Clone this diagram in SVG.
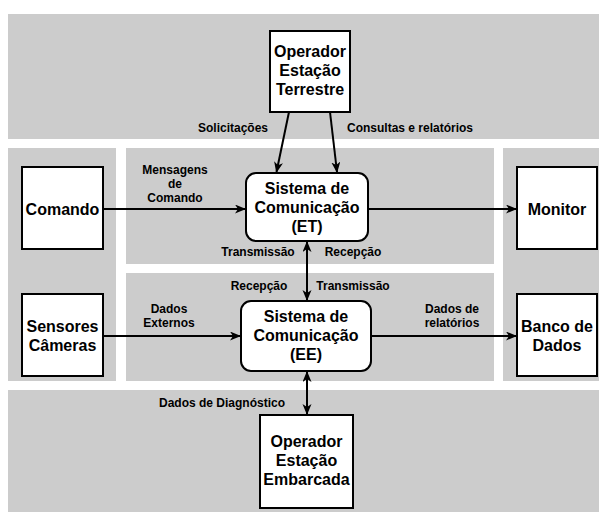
<svg xmlns="http://www.w3.org/2000/svg" width="599" height="512" viewBox="0 0 599 512">
  <style>
    .band { fill: #cccccc; stroke: none; }
    .box { fill: #ffffff; stroke: #000000; stroke-width: 2; }
    .node-text { font-family: "Liberation Sans", Arial, sans-serif; font-size: 16px; font-weight: bold; fill: #000000; text-anchor: middle; }
    .label { font-family: "Liberation Sans", Arial, sans-serif; font-size: 12px; font-weight: bold; fill: #000000; text-anchor: middle; }
    .edge { fill: none; stroke: #000000; stroke-width: 2; }
  </style>
  <defs>
    <marker id="arrow" markerUnits="userSpaceOnUse" markerWidth="12" markerHeight="10" refX="10" refY="4.5" orient="auto-start-reverse">
      <path d="M0,0 L11,4.5 L0,9 L3,4.5 Z" fill="#000000"/>
    </marker>
  </defs>

  <rect width="599" height="512" fill="#ffffff"/>

  <!-- background zones -->
  <g id="zones">
    <rect class="band" x="8" y="14" width="591" height="125"/>
    <rect class="band" x="8" y="148" width="108" height="233"/>
    <rect class="band" x="126" y="148" width="368" height="116"/>
    <rect class="band" x="126" y="273" width="368" height="108"/>
    <rect class="band" x="503" y="148" width="96" height="233"/>
    <rect class="band" x="8" y="390" width="591" height="122"/>
  </g>

  <!-- connectors -->
  <g id="connectors">
    <line class="edge" x1="289" y1="112" x2="276.5" y2="172" marker-end="url(#arrow)"/>
    <line class="edge" x1="330" y1="112" x2="337" y2="172" marker-end="url(#arrow)"/>
    <line class="edge" x1="103" y1="209" x2="245" y2="209" marker-end="url(#arrow)"/>
    <line class="edge" x1="368" y1="209" x2="516" y2="209" marker-end="url(#arrow)"/>
    <line class="edge" x1="307" y1="242" x2="307" y2="300" marker-start="url(#arrow)" marker-end="url(#arrow)"/>
    <line class="edge" x1="103" y1="336" x2="240" y2="336" marker-end="url(#arrow)"/>
    <line class="edge" x1="371" y1="336" x2="516" y2="336" marker-end="url(#arrow)"/>
    <line class="edge" x1="307" y1="372" x2="307" y2="414" marker-start="url(#arrow)" marker-end="url(#arrow)"/>

    <text class="label" x="233" y="132">Solicitações</text>
    <text class="label" x="410" y="132">Consultas e relatórios</text>
    <text class="label" x="175" y="174">Mensagens</text>
    <text class="label" x="175" y="188">de</text>
    <text class="label" x="175" y="202">Comando</text>
    <text class="label" x="258" y="256">Transmissão</text>
    <text class="label" x="353" y="256">Recepção</text>
    <text class="label" x="259" y="290">Recepção</text>
    <text class="label" x="353" y="290">Transmissão</text>
    <text class="label" x="169" y="313">Dados</text>
    <text class="label" x="169" y="327">Externos</text>
    <text class="label" x="452" y="313">Dados de</text>
    <text class="label" x="452" y="327">relatórios</text>
    <text class="label" x="222" y="407">Dados de Diagnóstico</text>
  </g>

  <g id="operador-terrestre">
    <rect class="box" x="270" y="31" width="80" height="81"/>
    <text class="node-text" x="310" y="57">Operador</text>
    <text class="node-text" x="310" y="76">Estação</text>
    <text class="node-text" x="310" y="95">Terrestre</text>
  </g>

  <g id="comando">
    <rect class="box" x="22" y="167" width="81" height="82"/>
    <text class="node-text" x="62.5" y="214.5">Comando</text>
  </g>

  <g id="sistema-et">
    <rect class="box" x="246" y="173" width="122" height="68" rx="10" ry="10"/>
    <text class="node-text" x="307" y="194">Sistema de</text>
    <text class="node-text" x="307" y="213">Comunicação</text>
    <text class="node-text" x="307" y="232">(ET)</text>
  </g>

  <g id="monitor">
    <rect class="box" x="517" y="167" width="80" height="82"/>
    <text class="node-text" x="557" y="214.5">Monitor</text>
  </g>

  <g id="sensores">
    <rect class="box" x="22" y="294" width="81" height="82"/>
    <text class="node-text" x="62.5" y="332">Sensores</text>
    <text class="node-text" x="62.5" y="351">Câmeras</text>
  </g>

  <g id="sistema-ee">
    <rect class="box" x="241" y="301" width="130" height="70" rx="10" ry="10"/>
    <text class="node-text" x="306" y="322">Sistema de</text>
    <text class="node-text" x="306" y="341">Comunicação</text>
    <text class="node-text" x="306" y="360">(EE)</text>
  </g>

  <g id="banco-dados">
    <rect class="box" x="517" y="294" width="80" height="82"/>
    <text class="node-text" x="557" y="332">Banco de</text>
    <text class="node-text" x="557" y="351">Dados</text>
  </g>

  <g id="operador-embarcada">
    <rect class="box" x="260" y="415" width="93" height="93"/>
    <text class="node-text" x="306.5" y="447">Operador</text>
    <text class="node-text" x="306.5" y="466">Estação</text>
    <text class="node-text" x="306.5" y="485">Embarcada</text>
  </g>
</svg>
